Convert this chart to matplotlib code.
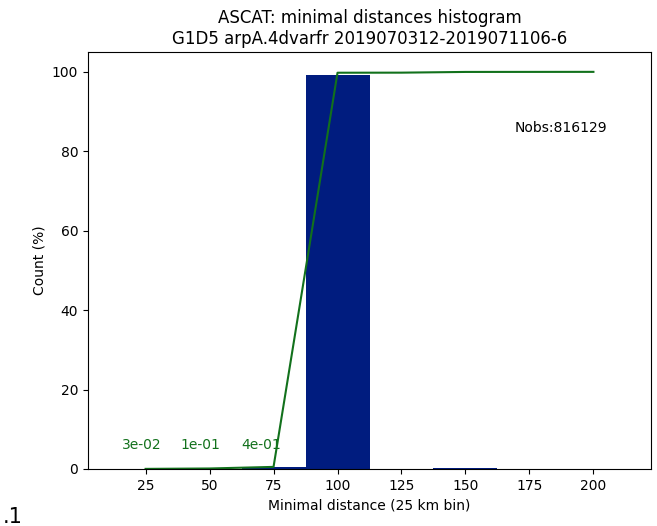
import numpy as np
import matplotlib.pyplot as plt

bins = [25, 50, 75, 100, 125, 150, 175, 200]
counts = [0.03, 0.1, 0.4, 99.25, 0.02, 0.18, 0.01, 0.01]
small_labels = ['3e-02', '1e-01', '4e-01']
nobs = 816129
title = 'ASCAT: minimal distances histogram\nG1D5 arpA.4dvarfr 2019070312-2019071106-6'

blue = '#001c7f'
green = '#12711c'

fig = plt.figure(figsize=(6.57, 5.26), dpi=100)
ax = fig.add_axes([88/657, 1-469/526, 563/657, 417/526])

ax.bar(bins, counts, width=25, color=blue)
cum = np.cumsum(counts)
ax.plot(bins, cum, color=green)

offs = [-1.5, -3.5, -5]
for b, lab, o in zip(bins, small_labels, offs):
    ax.text(b + o, 5, lab, color=green, ha='center')

ax.text(0.758, 0.807, 'Nobs:%d' % nobs, transform=ax.transAxes)

ax.set_xticks(bins)
ax.set_xlabel('Minimal distance (25 km bin)')
ax.set_ylabel('Count (%)')
ax.set_title(title, fontsize=12)

fig.text(0.004, 0.006, '.1', fontsize=15)

fig.savefig('out.png', dpi=100)
